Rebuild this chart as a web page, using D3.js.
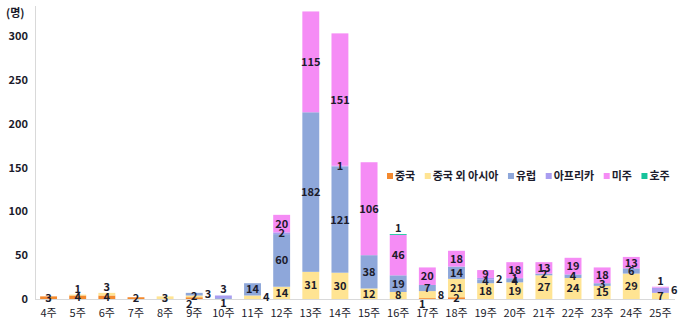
<!DOCTYPE html>
<html>
<head>
<meta charset="utf-8">
<script src="https://cdn.jsdelivr.net/npm/d3@7"></script>
<style>
  body { margin: 0; background: #fff; }
  svg text { font-family: 'Noto Sans CJK KR', 'Noto Sans', sans-serif; font-weight: 700; fill: #1b1b2b; }
</style>
</head>
<body>
<svg width="680" height="323"></svg>
<script>
const weeks = ['4주', '5주', '6주', '7주', '8주', '9주', '10주', '11주', '12주', '13주', '14주',
  '15주', '16주', '17주', '18주', '19주', '20주', '21주', '22주', '23주', '24주', '25주']
const seriesNames = ['중국', '중국 외 아시아', '유럽', '아프리카', '미주', '호주']
const china = [3, 4, 4, 2, 0, 2, 0, 0, 0, 0, 0, 0, 0, 1, 2, 0, 0, 0, 0, 0, 0, 0]
const asia = [0, 1, 3, 0, 3, 2, 0, 4, 14, 31, 30, 12, 8, 8, 21, 18, 19, 27, 24, 15, 29, 7]
const europe = [0, 0, 0, 0, 0, 3, 1, 14, 60, 182, 121, 38, 19, 7, 14, 4, 4, 2, 4, 3, 6, 0]
const africa = [0, 0, 0, 0, 0, 0, 3, 0, 2, 0, 1, 0, 0, 0, 0, 2, 1, 0, 0, 0, 0, 6]
const americas = [0, 0, 0, 0, 0, 0, 0, 0, 20, 115, 151, 106, 46, 20, 18, 9, 18, 13, 19, 18, 13, 1]
const oceania = [0, 0, 0, 0, 0, 0, 0, 0, 0, 0, 0, 0, 1, 0, 0, 0, 0, 0, 0, 0, 0, 0]
const yTicks = [0, 50, 100, 150, 200, 250, 300]
const colors = ['#f4892e', '#ffe493', '#8ea7da', '#a99df0', '#f58cf5', '#16c39b']

// where the small labels sit (the rest are centred in their segment)
const labelSpot = {
  '5주|중국 외 아시아': 'above',
  '6주|중국 외 아시아': 'above',
  '9주|중국': 'belowLeft',
  '9주|유럽': 'right',
  '10주|유럽': 'below',
  '10주|아프리카': 'above',
  '11주|중국 외 아시아': 'right',
  '16주|호주': 'above',
  '17주|중국': 'belowLeft',
  '17주|중국 외 아시아': 'right',
  '19주|아프리카': 'right',
  '25주|아프리카': 'right',
  '25주|미주': 'above'
}

const values = [china, asia, europe, africa, americas, oceania]
const table = weeks.map((w, i) => {
  const row = { week: w }
  seriesNames.forEach((s, k) => { row[s] = values[k][i] })
  return row
})

const svg = d3.select('svg')

const x = d3.scaleBand().domain(weeks).range([34, 675]).paddingInner(0.42).paddingOuter(0.21)
const y = d3.scaleLinear().domain([0, 300]).range([299, 36])

const stacked = d3.stack().keys(seriesNames)(table)

// axes lines
svg.append('line')
  .attr('x1', 35.5).attr('x2', 35.5).attr('y1', 6).attr('y2', y(0))
  .attr('stroke', '#d9d9d9')
svg.append('line')
  .attr('x1', 35).attr('x2', 675).attr('y1', y(0) + 0.5).attr('y2', y(0) + 0.5)
  .attr('stroke', '#d9d9d9')

const yAxis = svg.append('g')
  .attr('transform', 'translate(35,0)')
  .call(d3.axisLeft(y).tickValues(yTicks).tickSize(0).tickPadding(7))
yAxis.select('.domain').remove()
yAxis.selectAll('text').style('font-size', '11px')

const xAxis = svg.append('g')
  .attr('transform', 'translate(0,' + y(0) + ')')
  .call(d3.axisBottom(x).tickSize(0).tickPadding(10))
xAxis.select('.domain').remove()
xAxis.selectAll('text').style('font-size', '11px').style('font-weight', 400)

svg.append('text')
  .attr('x', 6).attr('y', 17)
  .style('font-size', '11px')
  .text('(명)')

// bars
const layer = svg.append('g')
  .selectAll('g')
  .data(stacked)
  .enter()
  .append('g')
  .attr('fill', (d, k) => colors[k])

layer.selectAll('rect')
  .data(d => d.filter(p => p[1] - p[0] > 0))
  .enter()
  .append('rect')
  .attr('x', d => x(d.data.week))
  .attr('width', x.bandwidth())
  .attr('y', d => y(d[1]))
  .attr('height', d => y(d[0]) - y(d[1]))

// value labels
const labels = []
stacked.forEach(s => {
  s.forEach(p => {
    const v = p[1] - p[0]
    if (v <= 0) return
    const week = p.data.week
    const total = d3.sum(seriesNames, k => p.data[k])
    const spot = labelSpot[week + '|' + s.key] || 'center'
    let lx = x(week) + x.bandwidth() / 2
    let ly = (y(p[0]) + y(p[1])) / 2
    let anchor = 'middle'
    if (spot === 'above') ly = y(total) - 6
    if (spot === 'below') ly = y(0) + 4
    if (spot === 'belowLeft') { ly = y(0) + 5; lx -= 5 }
    if (spot === 'right') { lx = x(week) + x.bandwidth() + 2; anchor = 'start' }
    labels.push({ v, lx, ly, anchor })
  })
})

svg.append('g')
  .selectAll('text')
  .data(labels)
  .enter()
  .append('text')
  .attr('x', d => d.lx)
  .attr('y', d => d.ly)
  .attr('dy', '0.36em')
  .attr('text-anchor', d => d.anchor)
  .style('font-size', '11px')
  .text(d => d.v)

// legend
const legend = svg.append('g').attr('transform', 'translate(387,176)')
let lx = 0
seriesNames.forEach((name, k) => {
  legend.append('rect')
    .attr('x', lx).attr('y', -3).attr('width', 6).attr('height', 6)
    .attr('fill', colors[k])
  const t = legend.append('text')
    .attr('x', lx + 8).attr('y', 0).attr('dy', '0.36em')
    .style('font-size', '11px')
    .text(name)
  lx += 8 + t.node().getComputedTextLength() + 9.5
})
</script>
</body>
</html>
